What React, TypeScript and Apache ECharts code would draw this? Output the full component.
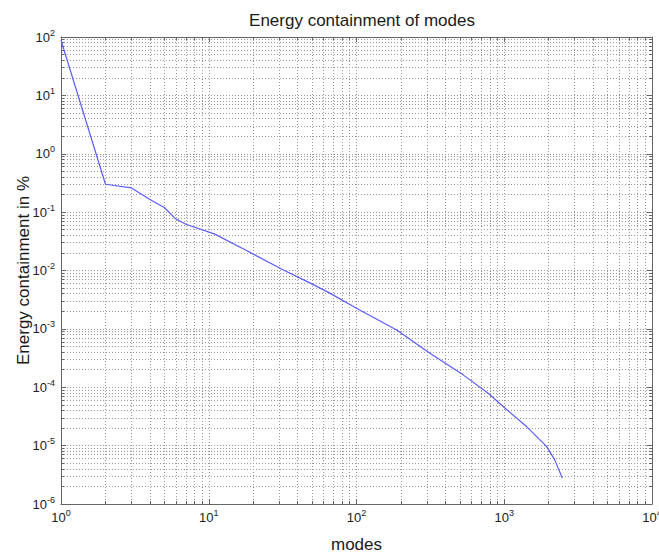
import React, { useEffect, useRef } from "react";
import * as echarts from "echarts";

const modes = [1, 2, 3, 4, 5, 6, 7, 11, 18, 32, 48, 66, 100, 187, 314, 527, 778, 1010, 1416, 1932, 2198, 2470];
const energy = [88, 0.3, 0.26, 0.165, 0.12, 0.076, 0.062, 0.042, 0.022, 0.0102, 0.0062, 0.0041, 0.00226, 0.00096, 0.000384, 0.000163, 7.9e-5, 4.4e-5, 2.12e-5, 9.7e-6, 5.7e-6, 2.8e-6];

const xMin = 1;
const xMax = 10000;
const yMin = 1e-6;
const yMax = 100;

const FONT = "'Liberation Sans', Arial, sans-serif";

const expLabel = (v: number) => {
  const e = Math.round(Math.log10(v));
  return "{b|10}{s|" + e + "}";
};

const labelRich = {
  b: { fontSize: 13, color: "#222", fontFamily: FONT },
  s: { fontSize: 9, color: "#222", fontFamily: FONT, padding: [0, 0, 9, 0] },
};

const gridDot = { color: "#9a9a9a", width: 1, type: [1, 2] as any };

export default function App() {
  const ref = useRef<HTMLDivElement>(null);
  useEffect(() => {
    if (!ref.current) return;
    const chart = echarts.init(ref.current, undefined, { renderer: "svg" });
    const baseX = {
      type: "log" as const,
      logBase: 10,
      min: xMin,
      max: xMax,
      splitNumber: 4,
      axisLine: { show: true, lineStyle: { color: "#666", width: 1 } },
      axisTick: { show: true, inside: true, length: 5, lineStyle: { color: "#666" } },
      minorTick: { show: true, splitNumber: 9, length: 3, lineStyle: { color: "#666" } },
    };
    const baseY = {
      type: "log" as const,
      logBase: 10,
      min: yMin,
      max: yMax,
      splitNumber: 8,
      axisLine: { show: true, lineStyle: { color: "#666", width: 1 } },
      axisTick: { show: true, inside: true, length: 5, lineStyle: { color: "#666" } },
      minorTick: { show: true, splitNumber: 9, length: 3, lineStyle: { color: "#666" } },
    };
    chart.setOption({
      animation: false,
      backgroundColor: "#ffffff",
      title: {
        text: "Energy containment of modes",
        left: 357,
        textAlign: "center",
        top: 7,
        textStyle: { fontFamily: FONT, fontSize: 17, fontWeight: "normal", color: "#1a1a1a" },
      },
      grid: { left: 61, right: 7, top: 37, bottom: 53, containLabel: false, outerBoundsMode: "none" },
      xAxis: [
        {
          ...baseX,
          position: "bottom",
          name: "modes",
          nameLocation: "middle",
          nameGap: 32,
          nameMoveOverlap: false,
          nameTextStyle: { fontFamily: FONT, fontSize: 17, color: "#1a1a1a" },
          axisLabel: { formatter: expLabel, rich: labelRich, margin: 4 },
          splitLine: { show: true, lineStyle: gridDot },
          minorSplitLine: { show: true, lineStyle: gridDot },
        },
        {
          ...baseX,
          position: "top",
          axisLabel: { show: false },
          splitLine: { show: false },
          minorSplitLine: { show: false },
        },
      ],
      yAxis: [
        {
          ...baseY,
          position: "left",
          name: "Energy containment in %",
          nameLocation: "middle",
          nameGap: 29,
          nameMoveOverlap: false,
          nameTextStyle: { fontFamily: FONT, fontSize: 17, color: "#1a1a1a" },
          axisLabel: { formatter: expLabel, rich: labelRich, margin: 6 },
          splitLine: { show: true, lineStyle: gridDot },
          minorSplitLine: { show: true, lineStyle: gridDot },
        },
        {
          ...baseY,
          position: "right",
          axisLabel: { show: false },
          splitLine: { show: false },
          minorSplitLine: { show: false },
        },
      ],
      series: [
        {
          type: "line",
          xAxisIndex: 0,
          yAxisIndex: 0,
          data: modes.map((m, i) => [m, energy[i]]),
          showSymbol: false,
          symbol: "none",
          lineStyle: { color: "#5c5cff", width: 1.2 },
        },
      ],
    });
    return () => chart.dispose();
  }, []);
  return <div ref={ref} style={{ width: 659, height: 557, position: "absolute", left: 0, top: 0 }} />;
}
